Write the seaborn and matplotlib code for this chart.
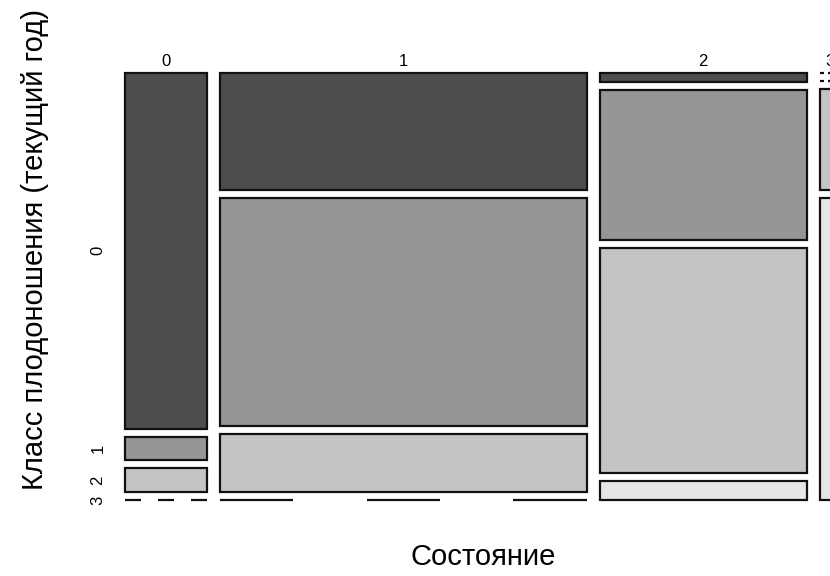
import numpy as np
import matplotlib
matplotlib.use("Agg")
import matplotlib.pyplot as plt
from matplotlib.patches import Rectangle
import seaborn as sns

# Mosaic data: Состояние (columns) x Класс плодоношения (rows)
states = ["0", "1", "2", "3"]
fruit_classes = ["0", "1", "2", "3"]
counts_state0 = [15, 1, 1, 0]
counts_state1 = [22, 43, 11, 0]
counts_state2 = [1, 16, 24, 2]
counts_state3 = [0, 0, 1, 3]
row_colors = ["#4D4D4D", "#969696", "#C4C4C4", "#E6E6E6"]
x_title = "Состояние"
y_title = "Класс плодоношения (текущий год)"

sns.set_theme(style="white")
plt.rcParams['font.family'] = ['Liberation Sans', 'DejaVu Sans']

fig = plt.figure(figsize=(8.3, 5.76), dpi=100)
fig.patch.set_facecolor("white")
ax = fig.add_axes([0, 0, 1, 1])
ax.set_xlim(0, 830)
ax.set_ylim(576, 0)
ax.axis("off")

table = np.array([counts_state0, counts_state1, counts_state2, counts_state3], dtype=float)

left, top, bottom = 125, 73, 500
px_per_count = 82 / table[0].sum()
hgap, vgap = 13, 8
avail = (bottom - top) - vgap * (len(fruit_classes) - 1)

x = left
for j, col in enumerate(table):
    n = col.sum()
    w = n * px_per_count
    y = top
    for i, c in enumerate(col):
        h = c / n * avail
        if c > 0:
            ax.add_patch(Rectangle((x, y), w, h, facecolor=row_colors[i],
                                   edgecolor="#111111", lw=1.6, zorder=2))
        else:
            for k in (0, 2, 4):
                ax.plot([x + k * w / 5, x + (k + 1) * w / 5], [y, y],
                        color="#111111", lw=1.6, solid_capstyle="butt", zorder=2)
        if j == 0:
            ax.text(98, y + h / 2, fruit_classes[i], rotation=90,
                    ha="center", va="center", fontsize=12, color="black")
        y += h + vgap
    ax.text(x + w / 2, 61, states[j], ha="center", va="center",
            fontsize=12, color="black", clip_on=False)
    x += w + hgap

ax.text(483, 557, x_title, ha="center", va="center", fontsize=21, color="black")
ax.text(35, 250, y_title, ha="center", va="center", rotation=90,
        fontsize=21, color="black")

fig.savefig("out.png", dpi=100, facecolor="white")
